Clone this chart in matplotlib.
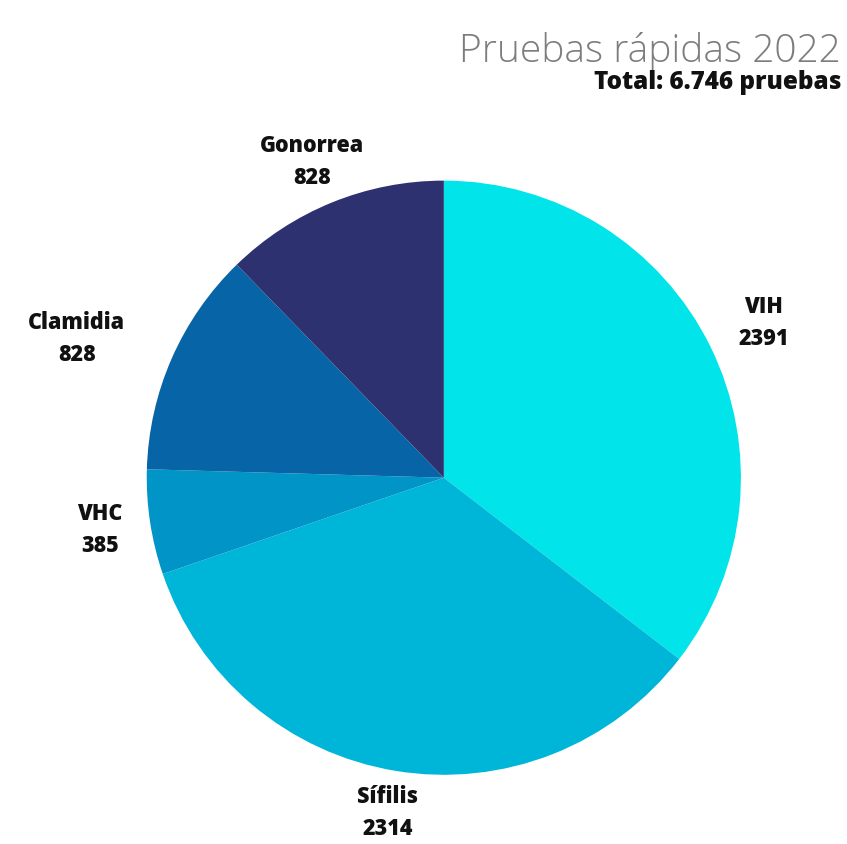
import numpy as np
import matplotlib.pyplot as plt

# Data
categorias = ["VIH", "Sífilis", "VHC", "Clamidia", "Gonorrea"]
pruebas = [2391, 2314, 385, 828, 828]
colores = ["#00E4EA", "#00B6D8", "#0095C6", "#0764A6", "#2D3170"]
titulo = "Pruebas rápidas 2022"
subtitulo = "Total: 6.746 pruebas"

plt.rcParams["font.family"] = ["Open Sans", "DejaVu Sans"]

fig = plt.figure(figsize=(8.47, 8.44), dpi=100)
ax = fig.add_axes([0.173, 0.082, 0.702, 0.704])

wedges, _ = ax.pie(pruebas, colors=colores, startangle=90, counterclock=False,
                   wedgeprops=dict(linewidth=0))
ax.set_aspect("equal")

# Labels outside every wedge, name over value
dist = [1.2, 1.17, 1.17, 1.35, 1.18]
ajuste_y = [-0.01, 0.025, 0.0, -0.075, -0.03]
for w, nombre, valor, d, dy in zip(wedges, categorias, pruebas, dist, ajuste_y):
    ang = np.deg2rad((w.theta1 + w.theta2) / 2)
    x = d * np.cos(ang)
    y = d * np.sin(ang) + dy
    ax.text(x, y, nombre + "\n" + str(valor), ha="center", va="center",
            fontsize=15.5, fontweight="heavy", color="#111111", linespacing=1.45)

ax.set_xlim(-1, 1)
ax.set_ylim(-1, 1)

fig.text(0.993, 0.926, titulo, ha="right", va="baseline", fontsize=28,
         fontweight="light", color="#7d7d7d")
fig.text(0.993, 0.894, subtitulo, ha="right", va="baseline", fontsize=17.5,
         fontweight="heavy", color="#111111")

plt.savefig("out.png", dpi=100)
